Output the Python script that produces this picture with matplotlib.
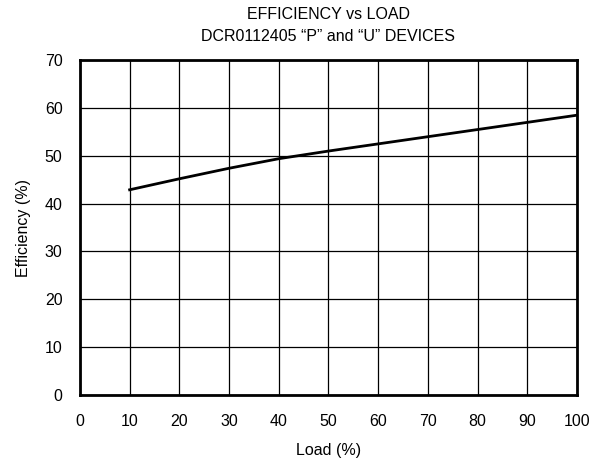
import matplotlib
matplotlib.use('Agg')
import matplotlib.pyplot as plt

# Data
load = [10, 20, 30, 40, 50, 60, 70, 80, 90, 100]
efficiency = [42.9, 45.2, 47.4, 49.4, 51.0, 52.5, 54.0, 55.5, 57.0, 58.5]

x_ticks = list(range(0, 101, 10))
y_ticks = list(range(0, 71, 10))

plt.rcParams['font.family'] = ['Liberation Sans', 'DejaVu Sans']

fig = plt.figure(figsize=(6.1, 4.63), dpi=100)
ax = fig.add_axes([0.131, 0.147, 0.815, 0.723])

ax.plot(load, efficiency, color='black', linewidth=2)

ax.set_xlim(0, 100)
ax.set_ylim(0, 70)
ax.set_xticks(x_ticks)
ax.set_yticks(y_ticks)
ax.grid(True, color='black', linewidth=0.9)
ax.tick_params(length=0, labelsize=11.5)
ax.tick_params(axis='x', pad=14)
ax.tick_params(axis='y', pad=12.5)
for spine in ax.spines.values():
    spine.set_linewidth(2)

ax.set_xlabel('Load (%)', fontsize=11.5, labelpad=10)
ax.set_ylabel('Efficiency (%)', fontsize=11.5, labelpad=10)
ax.set_title('EFFICIENCY vs LOAD\nDCR0112405 \u201cP\u201d and \u201cU\u201d DEVICES',
             fontsize=11.5, linespacing=1.6, pad=14)

fig.savefig('out.png', dpi=100)
